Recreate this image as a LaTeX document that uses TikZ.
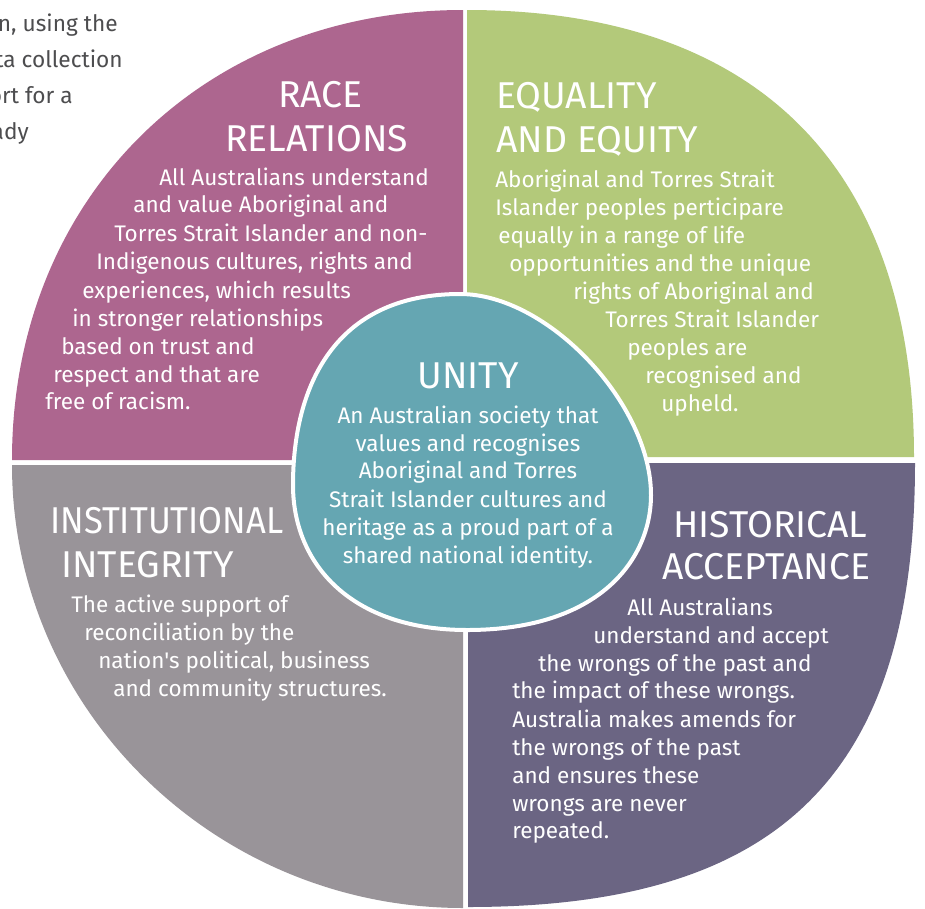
\documentclass[tikz,border=0pt]{standalone}
\usepackage{fontspec}
\setmainfont{Fira Sans}
\newfontfamily\firafam{Fira Sans}
\newcommand\bodyfont{\firafam\fontsize{16.9}{19}\selectfont}
\newcommand\headfont{\firafam\fontsize{28}{31}\selectfont}
\newcommand\pagefont{\firafam\fontsize{17}{20}\selectfont}
\definecolor{rrcol}{HTML}{AD668F}
\definecolor{eqcol}{HTML}{B3C97A}
\definecolor{hacol}{HTML}{6B6583}
\definecolor{iicol}{HTML}{999499}
\definecolor{uncol}{HTML}{65A6B2}
\definecolor{pagetext}{HTML}{4D4D4F}
\begin{document}
\begin{tikzpicture}[x=0.75pt,y=-0.75pt,
  body/.style={anchor=base west, inner sep=0pt, text=white, font=\bodyfont},
  bodyc/.style={anchor=base, inner sep=0pt, text=white, font=\bodyfont},
  head/.style={anchor=base west, inner sep=0pt, text=white, font=\headfont},
  headc/.style={anchor=base, inner sep=0pt, text=white, font=\headfont},
  pagetxt/.style={anchor=base east, inner sep=0pt, text=pagetext, font=\pagefont}]
\useasboundingbox (0,0) rectangle (925,908);
\fill[white] (0,0) rectangle (925,908);
% quadrants
\fill[rrcol] (12,460) -- (463,460) -- (463,10) .. controls (202,10) and (12,199) .. (12,460) -- cycle;
\fill[eqcol] (467,457) -- (467,10) .. controls (757,10) and (914,167) .. (914,457) -- cycle;
\fill[hacol] (468,463) -- (915,463) .. controls (915,774) and (781,907) .. (468,907) -- cycle;
\fill[iicol] (463,465) -- (463,908) .. controls (215,908) and (12,709) .. (12,465) -- cycle;
% centre blob
\draw[white, line width=3pt, fill=uncol]
  (460,294) .. controls (548,294) and (651,404) .. (651,495)
            .. controls (651,559) and (600,630) .. (467,630)
            .. controls (351,630) and (293,564) .. (293,485)
            .. controls (293,387) and (334,294) .. (460,294) -- cycle;
% partial page text
\foreach \x/\y/\t [count=\i] in {118/31/{n, using the}, 123/67/{ta collection},
  73/103/{ort for a}, 29/139/{ady}}
  \node[pagetxt] (pg\i) at (\x,\y) {\t};
% RACE RELATIONS
\node[head] (rrh1) at (278,107) {RACE};
\node[head] (rrh2) at (225,151) {RELATIONS};
\foreach \x/\y/\t [count=\i] in {159/185/{All Australians understand},
  133/212/{and value Aboriginal and},
  114/241/{Torres Strait Islander and non-},
  96/269/{Indigenous cultures, rights and},
  82/298/{experiences, which results},
  72/326/{in stronger relationships},
  61/354/{based on trust and},
  53/382/{respect and that are},
  45/409/{free of racism.}}
  \node[body] (rr\i) at (\x,\y) {\t};
% EQUALITY AND EQUITY
\node[head] (eqh1) at (496,108) {EQUALITY};
\node[head] (eqh2) at (496,152) {AND EQUITY};
\foreach \x/\y/\t [count=\i] in {495/187/{Aboriginal and Torres Strait},
  495/215/{Islander peoples perticipare},
  498/243/{equally in a range of life},
  509/271/{opportunities and the unique},
  573/299/{rights of Aboriginal and},
  605/327/{Torres Strait Islander},
  627/355/{peoples are},
  645/383/{recognised and},
  661/411/{upheld.}}
  \node[body] (eq\i) at (\x,\y) {\t};
% UNITY
\node[headc] (unh) at (468,388) {UNITY};
\foreach \y/\t [count=\i] in {423/{An Australian society that},
  451/{values and recognises},
  478/{Aboriginal and Torres},
  507/{Strait Islander cultures and},
  535/{heritage as a proud part of a},
  563/{shared national identity.}}
  \node[bodyc] (un\i) at (468,\y) {\t};
% INSTITUTIONAL INTEGRITY
\node[head] (iih1) at (50,533) {\scalebox{0.925}[1]{INSTITUTIONAL}};
\node[head] (iih2) at (61,577) {INTEGRITY};
\foreach \x/\y/\t [count=\i] in {71/612/{The active support of},
  84/640/{reconciliation by the},
  98/668/{nation's political, business},
  113/696/{and community structures.}}
  \node[body] (ii\i) at (\x,\y) {\t};
% HISTORICAL ACCEPTANCE
\node[head] (hah1) at (673,537) {HISTORICAL};
\node[head] (hah2) at (662,579) {ACCEPTANCE};
\foreach \x/\y/\t [count=\i] in {627/615/{All Australians},
  593/643/{understand and accept},
  538/671/{the wrongs of the past and},
  512/698/{the impact of these wrongs.},
  512/727/{Australia makes amends for},
  512/755/{the wrongs of the past},
  512/783/{and ensures these},
  512/811/{wrongs are never},
  512/838/{repeated.}}
  \node[body] (ha\i) at (\x,\y) {\t};
\end{tikzpicture}
\end{document}
